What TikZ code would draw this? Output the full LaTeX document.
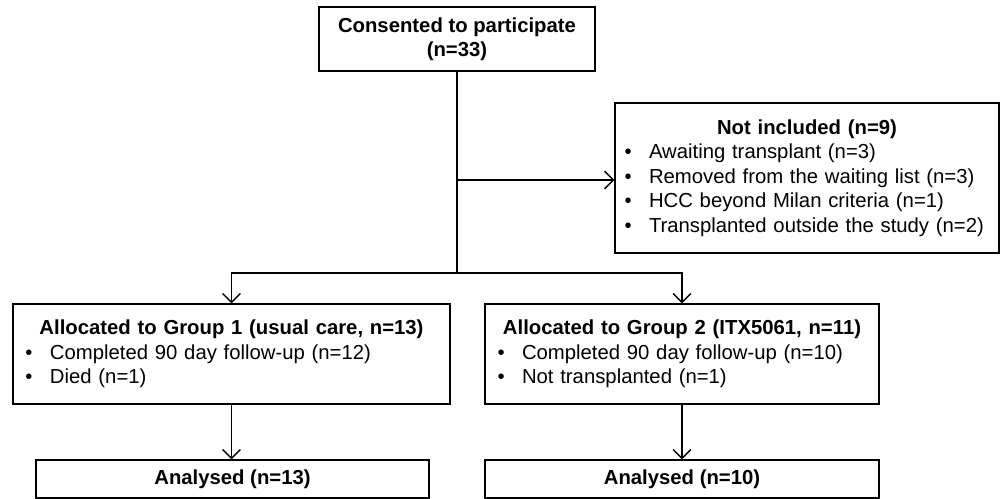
\documentclass[tikz,border=0pt]{standalone}
\usepackage{fontspec}
\setmainfont{Liberation Sans}
\usetikzlibrary{arrows.meta}
\newcommand{\bitem}{\makebox[0.49cm][l]{\textbullet}}
\newcommand{\btitle}[1]{\makebox[\hsize]{\bfseries #1}}
\begin{document}
\begin{tikzpicture}[x=0.2mm,y=0.2mm]
    % Define styles
    \tikzstyle{box}=[draw,thick,rectangle,inner sep=0pt,font=\fontsize{11.55}{13.9}\selectfont]
    \tikzstyle{listbox}=[box,align=left]
    \tikzstyle{plainedge}=[thick]
    \tikzstyle{outedge}=[thick,-{Straight Barb[length=5pt,width=10pt]}]

    \useasboundingbox (0,0) rectangle (1000,499);

    % Draw the nodes
    \node[box,align=center,minimum width=5.52cm,minimum height=1.28cm] (consent) at (457,460)
        {\bfseries Consented to participate\\\bfseries (n=33)};
    \node[listbox,minimum width=7.68cm,minimum height=3.0cm,text width=7.3cm] (notinc) at (807,321) {
        \btitle{Not included (n=9)}\\
        \bitem Awaiting transplant (n=3)\\
        \bitem Removed from the waiting list (n=3)\\
        \bitem HCC beyond Milan criteria (n=1)\\
        \bitem Transplanted outside the study (n=2)\\[4pt]
    };
    \node[listbox,minimum width=8.74cm,minimum height=2.0cm,text width=8.24cm] (group1) at (231.5,145) {
        \btitle{Allocated to Group 1 (usual care, n=13)}\\
        \bitem Completed 90 day follow-up (n=12)\\
        \bitem Died (n=1)\\[4pt]
    };
    \node[listbox,minimum width=7.88cm,minimum height=2.0cm,text width=7.38cm] (group2) at (682,145) {
        \btitle{Allocated to Group 2 (ITX5061, n=11)}\\
        \bitem Completed 90 day follow-up (n=10)\\
        \bitem Not transplanted (n=1)\\[4pt]
    };
    \node[box,minimum width=7.86cm,minimum height=0.76cm] (anal1) at (232.5,20) {\bfseries Analysed (n=13)};
    \node[box,minimum width=7.88cm,minimum height=0.76cm] (anal2) at (682,20) {\bfseries Analysed (n=10)};

    \coordinate (branch) at (457,319);
    \coordinate (split) at (457,226);

    % Draw the edges
    \draw[plainedge] (consent.south) -- (split);
    \draw[outedge] (branch) -- (notinc.west |- branch);
    \draw[outedge] (split) -| (group1.north);
    \draw[outedge] (split) -| (group2.north);
    \draw[outedge] (group1.south) -- (group1.south |- anal1.north);
    \draw[outedge] (group2.south) -- (group2.south |- anal2.north);
\end{tikzpicture}
\end{document}
